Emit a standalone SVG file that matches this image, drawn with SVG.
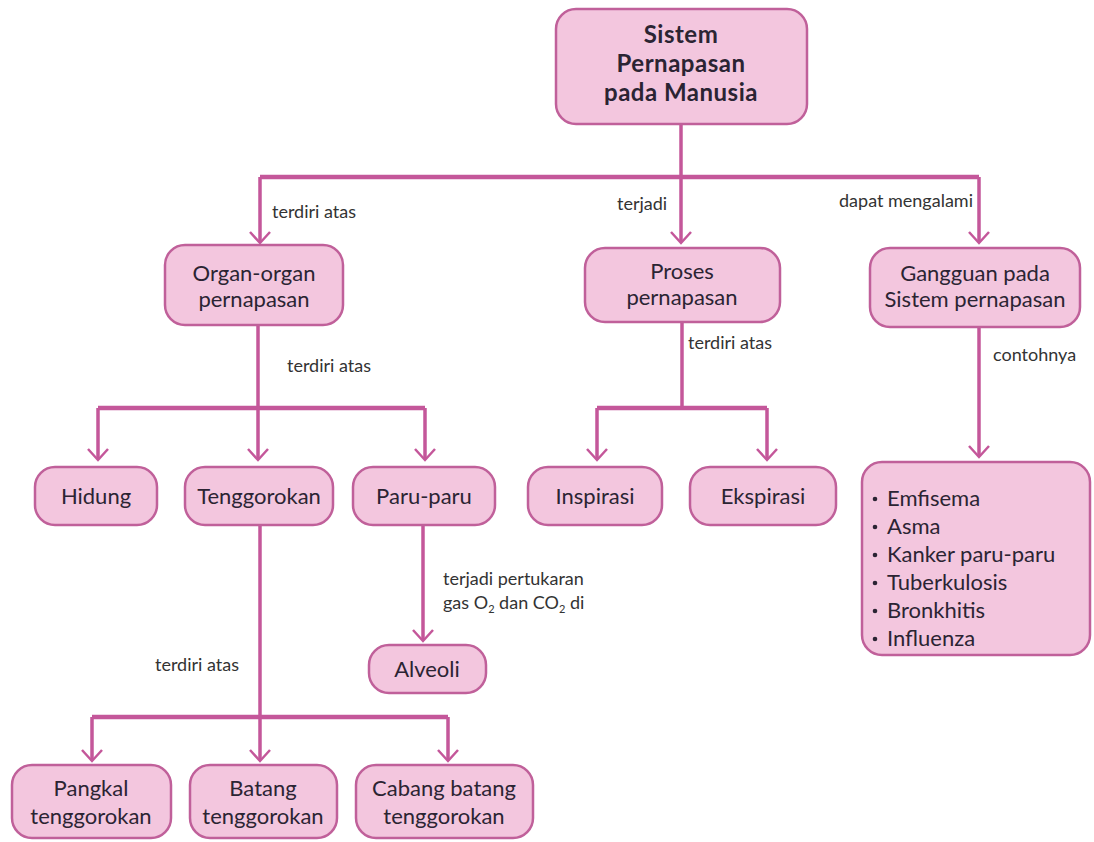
<svg xmlns="http://www.w3.org/2000/svg" width="1094" height="842" viewBox="0 0 1094 842">
<style>
.box{fill:#f3c6de;stroke:#c0609a;stroke-width:2.5}
.t{font-family:Lato,"Open Sans","DejaVu Sans",sans-serif;font-size:22px;fill:#2b2433;text-anchor:middle}
.s{font-family:Lato,"Open Sans","DejaVu Sans",sans-serif;font-size:22px;fill:#2b2433}
.tb{font-family:Lato,"Open Sans","DejaVu Sans",sans-serif;font-size:24px;font-weight:bold;fill:#2b2433;text-anchor:middle;letter-spacing:0.5px}
.l{font-family:Lato,"Open Sans","DejaVu Sans",sans-serif;font-size:18px;fill:#333}
.c{fill:none;stroke:#c4579a;stroke-width:3.5}
.h{fill:none;stroke:#c4579a;stroke-width:4.5}
.a{fill:none;stroke:#c4579a;stroke-width:2.5}
.b{fill:#2b2433}
</style>
<rect width="1094" height="842" fill="#fff"/>
<g id="connectors">
<path class="c" d="M681 125V177"/>
<path class="h" d="M260 177H979"/>
<path class="c" d="M260 177V242M681 177V242M979 177V242"/>
<path class="c" d="M258 325V408"/>
<path class="h" d="M98 408H425"/>
<path class="c" d="M98 408V459M258 408V459M425 408V459"/>
<path class="c" d="M682 322V408"/>
<path class="h" d="M597 408H767"/>
<path class="c" d="M597 408V459M767 408V459"/>
<path class="c" d="M979 327V456"/>
<path class="c" d="M260 525V717"/>
<path class="h" d="M92 717H448"/>
<path class="c" d="M92 717V760M260 717V760M448 717V760"/>
<path class="c" d="M423 525V640"/>
<g class="a">
<path d="M250 232L260 243L270 232"/>
<path d="M671 232L681 243L691 232"/>
<path d="M969 232L979 243L989 232"/>
<path d="M88 449L98 460L108 449"/>
<path d="M248 449L258 460L268 449"/>
<path d="M415 449L425 460L435 449"/>
<path d="M587 449L597 460L607 449"/>
<path d="M757 449L767 460L777 449"/>
<path d="M969 446L979 457L989 446"/>
<path d="M82 750L92 761L102 750"/>
<path d="M250 750L260 761L270 750"/>
<path d="M438 750L448 761L458 750"/>
<path d="M413 630L423 641L433 630"/>
</g>
<text class="l" x="272" y="218">terdiri atas</text>
<text class="l" x="617" y="210">terjadi</text>
<text class="l" x="973" y="207" text-anchor="end">dapat mengalami</text>
<text class="l" x="287" y="372">terdiri atas</text>
<text class="l" x="688" y="349">terdiri atas</text>
<text class="l" x="993" y="361">contohnya</text>
<text class="l" x="443" y="585">terjadi pertukaran</text>
<text class="l" x="443" y="609">gas O<tspan font-size="11" dy="4">2</tspan><tspan dy="-4"> dan CO</tspan><tspan font-size="11" dy="4">2</tspan><tspan dy="-4"> di</tspan></text>
<text class="l" x="155" y="671">terdiri atas</text>
</g>
<g id="root"><rect class="box" x="556" y="9" width="251" height="115" rx="20"/>
<text class="tb" x="681" y="43">Sistem</text><text class="tb" x="681" y="72">Pernapasan</text><text class="tb" x="681" y="101">pada Manusia</text></g>
<g id="organ"><rect class="box" x="165" y="245" width="178" height="80" rx="20"/>
<text class="t" x="254" y="281">Organ-organ</text><text class="t" x="254" y="307">pernapasan</text></g>
<g id="proses"><rect class="box" x="585" y="248" width="195" height="74" rx="20"/>
<text class="t" x="682" y="279">Proses</text><text class="t" x="682" y="305">pernapasan</text></g>
<g id="gangguan"><rect class="box" x="870" y="248" width="210" height="79" rx="20"/>
<text class="t" x="975" y="281">Gangguan pada</text><text class="t" x="975" y="307">Sistem pernapasan</text></g>
<g id="hidung"><rect class="box" x="35" y="467" width="122" height="58" rx="20"/>
<text class="t" x="96" y="504">Hidung</text></g>
<g id="tenggorokan"><rect class="box" x="185" y="467" width="148" height="58" rx="20"/>
<text class="t" x="259" y="504">Tenggorokan</text></g>
<g id="paru"><rect class="box" x="353" y="467" width="142" height="58" rx="20"/>
<text class="t" x="424" y="504">Paru-paru</text></g>
<g id="inspirasi"><rect class="box" x="528" y="467" width="134" height="58" rx="20"/>
<text class="t" x="595" y="504">Inspirasi</text></g>
<g id="ekspirasi"><rect class="box" x="690" y="467" width="146" height="58" rx="20"/>
<text class="t" x="763" y="504">Ekspirasi</text></g>
<g id="penyakit"><rect class="box" x="862" y="462" width="228" height="193" rx="20"/>
<circle class="b" cx="875" cy="499" r="2.3"/>
<circle class="b" cx="875" cy="527" r="2.3"/>
<circle class="b" cx="875" cy="555" r="2.3"/>
<circle class="b" cx="875" cy="583" r="2.3"/>
<circle class="b" cx="875" cy="611" r="2.3"/>
<circle class="b" cx="875" cy="639" r="2.3"/>
<text class="s" x="887" y="506">Emfisema</text>
<text class="s" x="887" y="534">Asma</text>
<text class="s" x="887" y="562">Kanker paru-paru</text>
<text class="s" x="887" y="590">Tuberkulosis</text>
<text class="s" x="887" y="618">Bronkhitis</text>
<text class="s" x="887" y="646">Influenza</text>
</g>
<g id="alveoli"><rect class="box" x="369" y="645" width="117" height="48" rx="20"/>
<text class="t" x="427" y="677">Alveoli</text></g>
<g id="pangkal"><rect class="box" x="12" y="765" width="159" height="73" rx="20"/>
<text class="t" x="91" y="796">Pangkal</text><text class="t" x="91" y="824">tenggorokan</text></g>
<g id="batang"><rect class="box" x="190" y="765" width="147" height="73" rx="20"/>
<text class="t" x="263" y="796">Batang</text><text class="t" x="263" y="824">tenggorokan</text></g>
<g id="cabang"><rect class="box" x="356" y="765" width="177" height="73" rx="20"/>
<text class="t" x="444" y="796">Cabang batang</text><text class="t" x="444" y="824">tenggorokan</text></g>
</svg>
